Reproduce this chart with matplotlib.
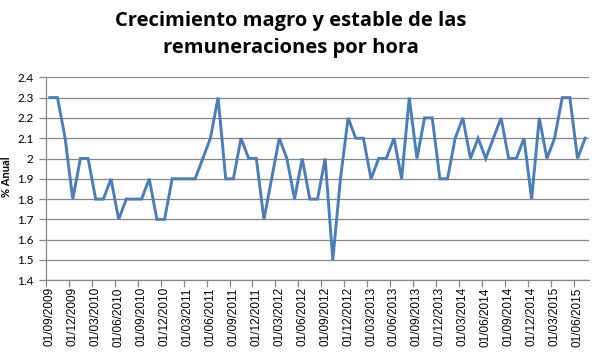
import matplotlib
matplotlib.use("Agg")
import matplotlib.pyplot as plt
import numpy as np

# Monthly values, 01/09/2009 .. 01/07/2015 (% anual)
values = [2.3, 2.3, 2.1, 1.8, 2.0, 2.0, 1.8, 1.8, 1.9, 1.7,
          1.8, 1.8, 1.8, 1.9, 1.7, 1.7, 1.9, 1.9, 1.9, 1.9,
          2.0, 2.1, 2.3, 1.9, 1.9, 2.1, 2.0, 2.0, 1.7, 1.9,
          2.1, 2.0, 1.8, 2.0, 1.8, 1.8, 2.0, 1.5, 1.9, 2.2,
          2.1, 2.1, 1.9, 2.0, 2.0, 2.1, 1.9, 2.3, 2.0, 2.2,
          2.2, 1.9, 1.9, 2.1, 2.2, 2.0, 2.1, 2.0, 2.1, 2.2,
          2.0, 2.0, 2.1, 1.8, 2.2, 2.0, 2.1, 2.3, 2.3, 2.0,
          2.1]

x_labels = ["01/09/2009", "01/12/2009", "01/03/2010", "01/06/2010",
            "01/09/2010", "01/12/2010", "01/03/2011", "01/06/2011",
            "01/09/2011", "01/12/2011", "01/03/2012", "01/06/2012",
            "01/09/2012", "01/12/2012", "01/03/2013", "01/06/2013",
            "01/09/2013", "01/12/2013", "01/03/2014", "01/06/2014",
            "01/09/2014", "01/12/2014", "01/03/2015", "01/06/2015"]

y_ticks = [1.4, 1.5, 1.6, 1.7, 1.8, 1.9, 2.0, 2.1, 2.2, 2.3, 2.4]
y_tick_labels = ["1.4", "1.5", "1.6", "1.7", "1.8", "1.9", "2", "2.1", "2.2", "2.3", "2.4"]

title_lines = ["Crecimiento magro y estable de las", "remuneraciones por hora"]
y_label = "% Anual"

fig = plt.figure(figsize=(5.97, 3.64), dpi=100)
ax = fig.add_axes([46 / 597, 1 - 280.3 / 364, (589 - 46) / 597, (280.3 - 77.3) / 364])

x = np.arange(len(values))
ax.plot(x, values, color="#4a7ebb", lw=2.1, solid_joinstyle="miter", zorder=3)

ax.set_xlim(-0.5, len(values) - 0.5)
ax.set_ylim(1.4, 2.4)

grid_col = "#868686"
ax.set_yticks(y_ticks)
ax.set_yticklabels(y_tick_labels, fontfamily="Lato", fontsize=8.5, color="#000000")
ax.yaxis.grid(True, color=grid_col, lw=0.9)
ax.set_axisbelow(True)

label_pos = np.arange(0, len(values), 3)[:len(x_labels)]
ax.set_xticks(label_pos)
ax.set_xticklabels(x_labels, rotation=90, fontfamily="Liberation Sans", fontsize=8.5)
ax.tick_params(axis="x", length=0, pad=5)
ax.set_xticks(np.arange(-0.5, len(values) - 1, 3), minor=True)
ax.tick_params(axis="x", which="minor", length=5, width=0.9, color=grid_col, direction="out")
ax.tick_params(axis="y", length=5, width=0.9, color=grid_col, direction="out", pad=4)

for s in ["top", "right"]:
    ax.spines[s].set_visible(False)
ax.spines["left"].set_color(grid_col)
ax.spines["left"].set_linewidth(0.9)
ax.spines["bottom"].set_color(grid_col)
ax.spines["bottom"].set_linewidth(0.9)

fig.text(7 / 597, 1 - 177 / 364, y_label, rotation=90, ha="center", va="center",
         fontfamily="Lato", fontweight="bold", fontsize=8)

for line, base in zip(title_lines, [25.7, 53.3]):
    fig.text(291 / 597, 1 - base / 364, line, ha="center", va="baseline",
             fontfamily="Open Sans", fontweight="bold", fontsize=14.5)

fig.savefig("out.png", dpi=100)
